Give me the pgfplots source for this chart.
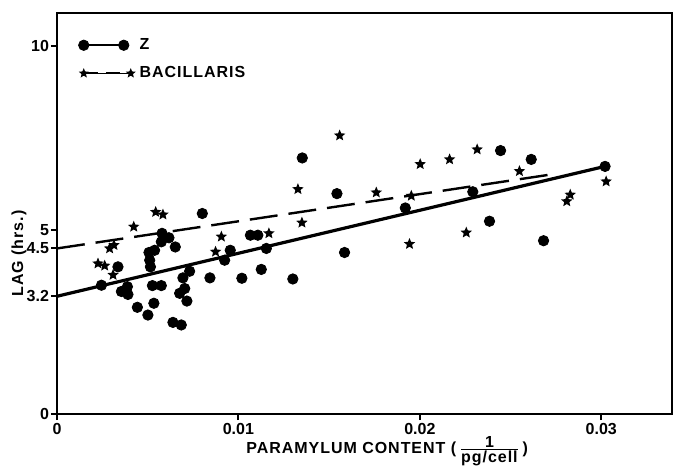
\documentclass[border=0pt]{standalone}
\usepackage{fontspec}
\setmainfont{Liberation Sans}
\newfontfamily\lsfont[LetterSpace=6]{Liberation Sans}
\usepackage{pgfplots}
\pgfplotsset{compat=1.18}
\pgfdeclareplotmark{fstar}{%
  \pgfpathmoveto{\pgfpointpolar{90}{\pgfplotmarksize}}%
  \pgfpathlineto{\pgfpointpolar{126}{0.45\pgfplotmarksize}}%
  \pgfpathlineto{\pgfpointpolar{162}{\pgfplotmarksize}}%
  \pgfpathlineto{\pgfpointpolar{198}{0.45\pgfplotmarksize}}%
  \pgfpathlineto{\pgfpointpolar{234}{\pgfplotmarksize}}%
  \pgfpathlineto{\pgfpointpolar{270}{0.45\pgfplotmarksize}}%
  \pgfpathlineto{\pgfpointpolar{306}{\pgfplotmarksize}}%
  \pgfpathlineto{\pgfpointpolar{342}{0.45\pgfplotmarksize}}%
  \pgfpathlineto{\pgfpointpolar{18}{\pgfplotmarksize}}%
  \pgfpathlineto{\pgfpointpolar{54}{0.45\pgfplotmarksize}}%
  \pgfpathclose\pgfusepathqfill}
\begin{document}
\begin{tikzpicture}
\useasboundingbox (-28.5pt,-26pt) rectangle (309pt,207pt);
\begin{axis}[
  width=307.5pt, height=200.5pt, scale only axis,
  xmin=0, xmax=0.0339, ymin=0, ymax=10.9,
  scaled x ticks=false,
  axis line style={line width=1pt},
  xtick={0,0.01,0.02,0.03}, xticklabels={0,0.01,0.02,0.03},
  ytick={0,3.2,4.5,5,10}, yticklabels={0,3.2,4.5,5,10},
  tick align=outside, tick pos=left, major tick length=3pt,
  tick style={line width=1pt, black},
  ticklabel style={font=\fontsize{8}{9}\selectfont\bfseries},
  xticklabel style={yshift=2pt},
  yticklabel style={xshift=2.5pt},
  label style={font=\fontsize{8}{9}\selectfont\lsfont\bfseries},
  xlabel={PARAMYLUM CONTENT (\,$\frac{\mbox{\fontsize{8}{9}\selectfont\lsfont\bfseries 1}}{\mbox{\fontsize{8}{9}\selectfont\lsfont\bfseries pg/cell}}$\,)},
  xlabel style={at={(axis description cs:0.537,-0.092)}, anchor=center},
  ylabel={LAG (hrs.)},
  ylabel style={at={(axis description cs:-0.062,0.40)}, anchor=center},
  legend style={draw=none, fill=none, at={(axis description cs:0.024,0.958)}, anchor=north west,
    font=\fontsize{8}{9}\selectfont\lsfont\bfseries, row sep=3pt,
    /tikz/every even column/.append style={column sep=10pt}},
  legend cell align=left,
]
\addlegendimage{legend image code/.code={\draw[line width=1pt] (0pt,0pt) -- (20pt,0pt); \fill (0pt,0pt) circle (2.6pt); \fill (20pt,0pt) circle (2.6pt);}}
\addlegendentry{Z}
\addlegendimage{legend image code/.code={\draw[line width=1pt, dash pattern=on 7pt off 4pt] (0pt,0pt) -- (23.5pt,0pt); \fill[black] plot[mark=fstar, mark size=2.6pt] coordinates {(0pt,0pt) (23.5pt,0pt)};}}
\addlegendentry{BACILLARIS}
% regression lines
\addplot[black, line width=1.6pt, forget plot] coordinates {(0,3.2) (0.0302,6.73)};
\addplot[black, line width=1.2pt, dash pattern=on 14pt off 5.5pt, forget plot] coordinates {(0,4.5) (0.0275,6.53)};
% Z (dots)
\addplot[only marks, mark=*, mark size=2.6pt, black, forget plot] coordinates {
(0.00801,5.45) (0.00579,4.91) (0.00617,4.79) (0.00575,4.68) (0.00652,4.54)
(0.00538,4.45) (0.00507,4.39) (0.00511,4.18) (0.00515,4.00) (0.00336,4.00)
(0.00731,3.88) (0.00694,3.70) (0.00843,3.70) (0.00245,3.50) (0.00388,3.46)
(0.00526,3.49) (0.00575,3.49) (0.00355,3.33) (0.00391,3.25) (0.00704,3.41)
(0.00676,3.28) (0.00716,3.07) (0.00534,3.01) (0.00443,2.90) (0.00501,2.69)
(0.00639,2.49) (0.00685,2.42) (0.01066,4.86) (0.01107,4.86) (0.00955,4.45)
(0.00924,4.18) (0.01154,4.50) (0.01126,3.93) (0.01019,3.69) (0.01300,3.67)
(0.01352,6.96) (0.01543,5.99) (0.01585,4.39) (0.01920,5.60) (0.02445,7.16)
(0.02614,6.92) (0.02292,6.04) (0.03021,6.73) (0.02384,5.24) (0.02682,4.71)
};
% Bacillaris (stars)
\addplot[only marks, mark=fstar, mark size=3pt, black, forget plot] coordinates {
(0.00226,4.09) (0.00263,4.03) (0.00309,3.78) (0.00290,4.50) (0.00314,4.59)
(0.00423,5.09) (0.00544,5.49) (0.00584,5.42) (0.00874,4.41) (0.00906,4.82)
(0.01168,4.91) (0.01328,6.11) (0.01350,5.20) (0.01558,7.57) (0.02002,6.79)
(0.01760,6.02) (0.01953,5.93) (0.01943,4.62) (0.02164,6.92) (0.02316,7.19)
(0.02549,6.60) (0.02829,5.96) (0.02810,5.78) (0.03027,6.32) (0.02256,4.93)
};
\end{axis}
\end{tikzpicture}
\end{document}
